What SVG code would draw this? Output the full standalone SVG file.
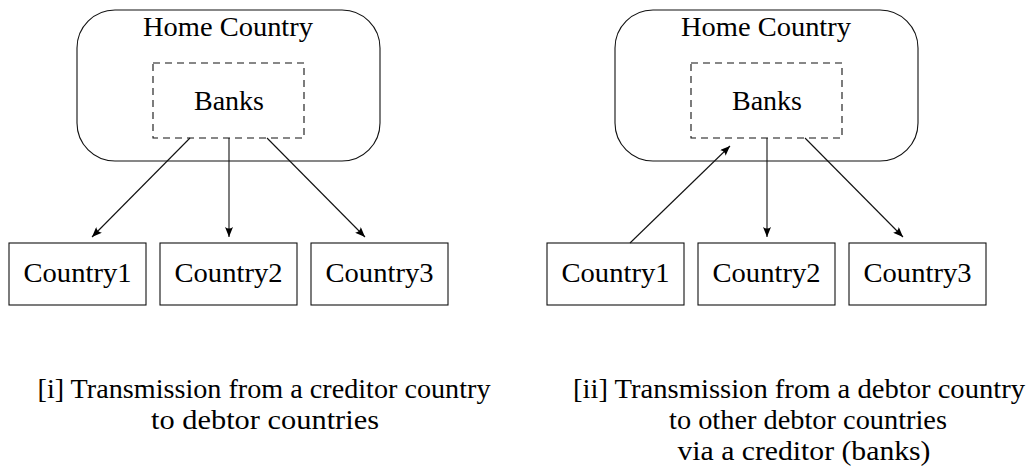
<svg xmlns="http://www.w3.org/2000/svg" width="1032" height="467" viewBox="0 0 1032 467">
<style>
text{font-family:"Liberation Serif","Times New Roman",serif;font-size:27px;fill:#000;text-anchor:middle}
.outer{fill:none;stroke:#111;stroke-width:1.1}
.dash{fill:none;stroke:#111;stroke-width:1.1;stroke-dasharray:7 5}
.box{fill:none;stroke:#111;stroke-width:1.1}
.conn{stroke:#111;stroke-width:1.1;fill:none;marker-end:url(#arr)}
</style>
<defs>
<marker id="arr" viewBox="0 0 10 8" refX="10" refY="4" markerWidth="10" markerHeight="8" markerUnits="userSpaceOnUse" orient="auto">
<path d="M0,0 Q3,4 0,8 L10,4 Z" fill="#000"/>
</marker>
</defs>
<rect width="1032" height="467" fill="#fff"/>

<!-- Left panel -->
<g id="home-left">
<rect class="outer" x="77" y="10" width="303" height="151" rx="38" ry="38"/>
<text x="228" y="36" textLength="170" lengthAdjust="spacingAndGlyphs">Home Country</text>
</g>
<g id="banks-left">
<rect class="dash" x="153" y="63" width="151" height="75"/>
<text x="229" y="110" textLength="70" lengthAdjust="spacingAndGlyphs">Banks</text>
</g>
<g id="country1-left">
<rect class="box" x="9" y="243" width="137" height="62"/>
<text x="77.5" y="282" textLength="108" lengthAdjust="spacingAndGlyphs">Country1</text>
</g>
<g id="country2-left">
<rect class="box" x="160" y="243" width="137" height="62"/>
<text x="228.5" y="282" textLength="108" lengthAdjust="spacingAndGlyphs">Country2</text>
</g>
<g id="country3-left">
<rect class="box" x="311" y="243" width="137" height="62"/>
<text x="379.5" y="282" textLength="108" lengthAdjust="spacingAndGlyphs">Country3</text>
</g>

<!-- Right panel -->
<g id="home-right">
<rect class="outer" x="615" y="10" width="303" height="151" rx="38" ry="38"/>
<text x="766" y="36" textLength="170" lengthAdjust="spacingAndGlyphs">Home Country</text>
</g>
<g id="banks-right">
<rect class="dash" x="691" y="63" width="151" height="75"/>
<text x="767" y="110" textLength="70" lengthAdjust="spacingAndGlyphs">Banks</text>
</g>
<g id="country1-right">
<rect class="box" x="547" y="243" width="137" height="62"/>
<text x="615.5" y="282" textLength="108" lengthAdjust="spacingAndGlyphs">Country1</text>
</g>
<g id="country2-right">
<rect class="box" x="698" y="243" width="137" height="62"/>
<text x="766.5" y="282" textLength="108" lengthAdjust="spacingAndGlyphs">Country2</text>
</g>
<g id="country3-right">
<rect class="box" x="849" y="243" width="137" height="62"/>
<text x="917.5" y="282" textLength="108" lengthAdjust="spacingAndGlyphs">Country3</text>
</g>

<g id="connectors">
<line class="conn" x1="190" y1="138" x2="92" y2="237"/>
<line class="conn" x1="229" y1="138" x2="229" y2="237"/>
<line class="conn" x1="267" y1="138" x2="365" y2="237"/>
<line class="conn" x1="630" y1="243" x2="730" y2="146"/>
<line class="conn" x1="767" y1="138" x2="767" y2="237"/>
<line class="conn" x1="805" y1="138" x2="903" y2="237"/>
</g>

<g id="caption-left">
<text x="264" y="398" textLength="453" lengthAdjust="spacingAndGlyphs">[i] Transmission from a creditor country</text>
<text x="265" y="429" textLength="228" lengthAdjust="spacingAndGlyphs">to debtor countries</text>
</g>
<g id="caption-right">
<text x="799" y="398" textLength="452" lengthAdjust="spacingAndGlyphs">[ii] Transmission from a debtor country</text>
<text x="808" y="429" textLength="278" lengthAdjust="spacingAndGlyphs">to other debtor countries</text>
<text x="804" y="460" textLength="253" lengthAdjust="spacingAndGlyphs">via a creditor (banks)</text>
</g>
</svg>
